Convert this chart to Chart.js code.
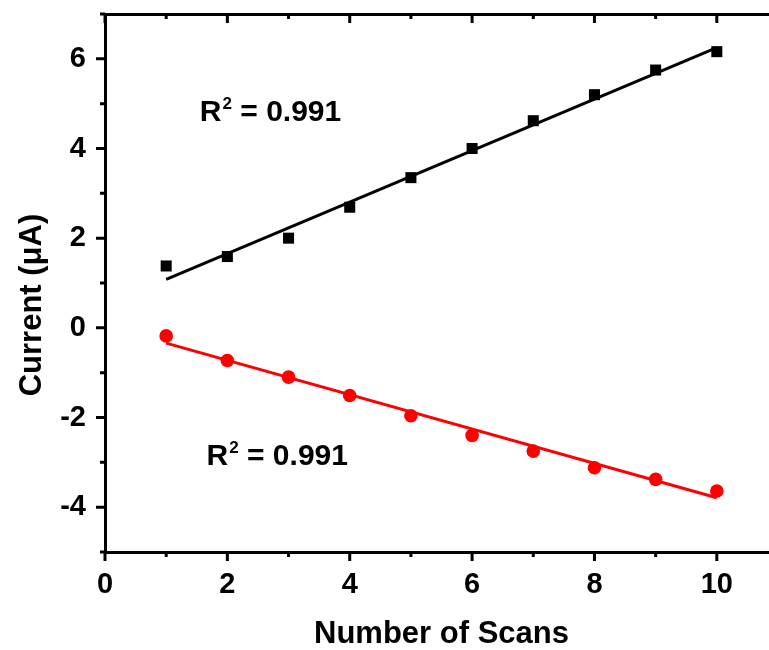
<!DOCTYPE html>
<html>
<head>
<meta charset="utf-8">
<script src="https://cdn.jsdelivr.net/npm/chart.js@4.4.1/dist/chart.umd.min.js"></script>
<style>
  html, body { margin: 0; padding: 0; background: #fff; overflow: hidden; }
  #wrap { width: 800px; height: 650px; }
</style>
</head>
<body>
<div id="wrap"><canvas id="scanChart"></canvas></div>
<script>
// Дані
const scans = [1, 2, 3, 4, 5, 6, 7, 8, 9, 10];
const anodicCurrent = [1.38, 1.59, 2.00, 2.69, 3.35, 4.00, 4.62, 5.20, 5.75, 6.16];
const cathodicCurrent = [-0.18, -0.73, -1.10, -1.51, -1.96, -2.40, -2.75, -3.12, -3.38, -3.64];

// Лінії апроксимації (кінцеві точки)
const fitX = [1, 10];
const anodicFit = [1.08, 6.25];
const cathodicFit = [-0.34, -3.79];

// Поділки осей
const xMajorTicks = [0, 2, 4, 6, 8, 10];
const xMinorTicks = [1, 3, 5, 7, 9, 11];
const yMajorTicks = [-4, -2, 0, 2, 4, 6];
const yMinorTicks = [-5, -3, -1, 1, 3, 5, 7];

// Підписи R^2 (позиції у координатах даних)
const r2Labels = ['0.991', '0.991'];
const r2X = [1.55, 1.66];
const r2Y = [4.61, -3.07];

const FONT = "Arial, 'Liberation Sans', sans-serif";

const toPoints = (xs, ys) => xs.map((x, i) => ({ x: x, y: ys[i] }));

// Малюємо поділки, підписи осей та R^2
const frameExtras = {
    id: 'frameExtras',
    afterDraw(chart) {
        const ctx = chart.ctx;
        const area = chart.chartArea;
        const xs = chart.scales.x;
        const ys = chart.scales.y;

        ctx.save();
        ctx.strokeStyle = '#000';
        ctx.lineWidth = 3;
        ctx.lineCap = 'butt';

        const tickX = (vals, len) => {
            vals.forEach(v => {
                const px = xs.getPixelForValue(v);
                ctx.beginPath();
                ctx.moveTo(px, area.bottom);
                ctx.lineTo(px, area.bottom + len);
                ctx.moveTo(px, area.top);
                ctx.lineTo(px, area.top + len);
                ctx.stroke();
            });
        };
        const tickY = (vals, len) => {
            vals.forEach(v => {
                const py = ys.getPixelForValue(v);
                ctx.beginPath();
                ctx.moveTo(area.left, py);
                ctx.lineTo(area.left - len, py);
                ctx.moveTo(area.right, py);
                ctx.lineTo(area.right - len, py);
                ctx.stroke();
            });
        };
        tickX(xMajorTicks, 9);
        tickX(xMinorTicks, 5);
        tickY(yMajorTicks, 9);
        tickY(yMinorTicks, 5);

        // Підписи R^2
        ctx.fillStyle = '#000';
        ctx.textBaseline = 'alphabetic';
        ctx.textAlign = 'left';
        r2Labels.forEach((txt, i) => {
            const px = xs.getPixelForValue(r2X[i]);
            const py = ys.getPixelForValue(r2Y[i]);
            ctx.font = 'bold 30px ' + FONT;
            ctx.fillText('R', px, py);
            const rw = ctx.measureText('R').width;
            ctx.font = 'bold 17px ' + FONT;
            ctx.fillText('2', px + rw + 1, py - 12);
            const sw = ctx.measureText('2').width;
            ctx.font = 'bold 30px ' + FONT;
            ctx.fillText(' = ' + txt, px + rw + sw + 1, py);
        });

        // Назви осей
        ctx.textAlign = 'center';
        ctx.font = 'bold 31px ' + FONT;
        ctx.fillText('Number of Scans', (area.left + area.right) / 2, area.bottom + 91);

        ctx.translate(41, (area.top + area.bottom) / 2 + 22);
        ctx.rotate(-Math.PI / 2);
        ctx.fillText('Current (\u03bcA)', 0, 0);
        ctx.restore();
    }
};

const ctx = document.getElementById('scanChart').getContext('2d');

new Chart(ctx, {
    type: 'scatter',
    plugins: [frameExtras],
    data: {
        datasets: [
            {
                type: 'line',
                data: toPoints(fitX, anodicFit),
                borderColor: '#000',
                borderWidth: 3,
                pointRadius: 0,
                fill: false
            },
            {
                type: 'line',
                data: toPoints(fitX, cathodicFit),
                borderColor: '#ff0000',
                borderWidth: 3,
                pointRadius: 0,
                fill: false
            },
            {
                data: toPoints(scans, anodicCurrent),
                pointStyle: 'rect',
                pointRadius: 7.8,
                backgroundColor: '#000',
                borderWidth: 0
            },
            {
                data: toPoints(scans, cathodicCurrent),
                pointStyle: 'circle',
                pointRadius: 6.8,
                backgroundColor: '#ff0000',
                borderWidth: 0
            }
        ]
    },
    options: {
        responsive: true,
        maintainAspectRatio: false,
        animation: false,
        layout: { padding: 0 },
        plugins: {
            legend: { display: false },
            tooltip: { enabled: false }
        },
        scales: {
            x: {
                type: 'linear',
                position: 'bottom',
                min: 0,
                max: 11,
                afterBuildTicks: (scale) => { scale.ticks = xMajorTicks.map(v => ({ value: v })); },
                afterFit: (scale) => {
                    scale.height = 98;
                    scale.paddingLeft = 0;
                    scale.paddingRight = 0;
                },
                grid: { display: false, drawTicks: false },
                border: { display: true, color: '#000', width: 3 },
                ticks: {
                    color: '#000',
                    padding: 16,
                    maxRotation: 0,
                    font: { family: FONT, size: 29, weight: 'bold' }
                }
            },
            x2: {
                type: 'linear',
                position: 'top',
                min: 0,
                max: 11,
                afterFit: (scale) => {
                    scale.height = 14;
                    scale.paddingLeft = 0;
                    scale.paddingRight = 0;
                },
                grid: { display: false, drawTicks: false },
                border: { display: true, color: '#000', width: 3 },
                ticks: { display: false }
            },
            y: {
                type: 'linear',
                position: 'left',
                min: -5,
                max: 7,
                afterBuildTicks: (scale) => { scale.ticks = yMajorTicks.map(v => ({ value: v })); },
                afterFit: (scale) => {
                    scale.width = 105;
                    scale.paddingTop = 0;
                    scale.paddingBottom = 0;
                },
                grid: { display: false, drawTicks: false },
                border: { display: true, color: '#000', width: 3 },
                ticks: {
                    color: '#000',
                    padding: 19,
                    font: { family: FONT, size: 29, weight: 'bold' }
                }
            },
            y2: {
                type: 'linear',
                position: 'right',
                min: -5,
                max: 7,
                afterFit: (scale) => {
                    scale.width = 22;
                    scale.paddingTop = 0;
                    scale.paddingBottom = 0;
                },
                grid: { display: false, drawTicks: false },
                border: { display: true, color: '#000', width: 3 },
                ticks: { display: false }
            }
        }
    }
});
</script>
</body>
</html>
